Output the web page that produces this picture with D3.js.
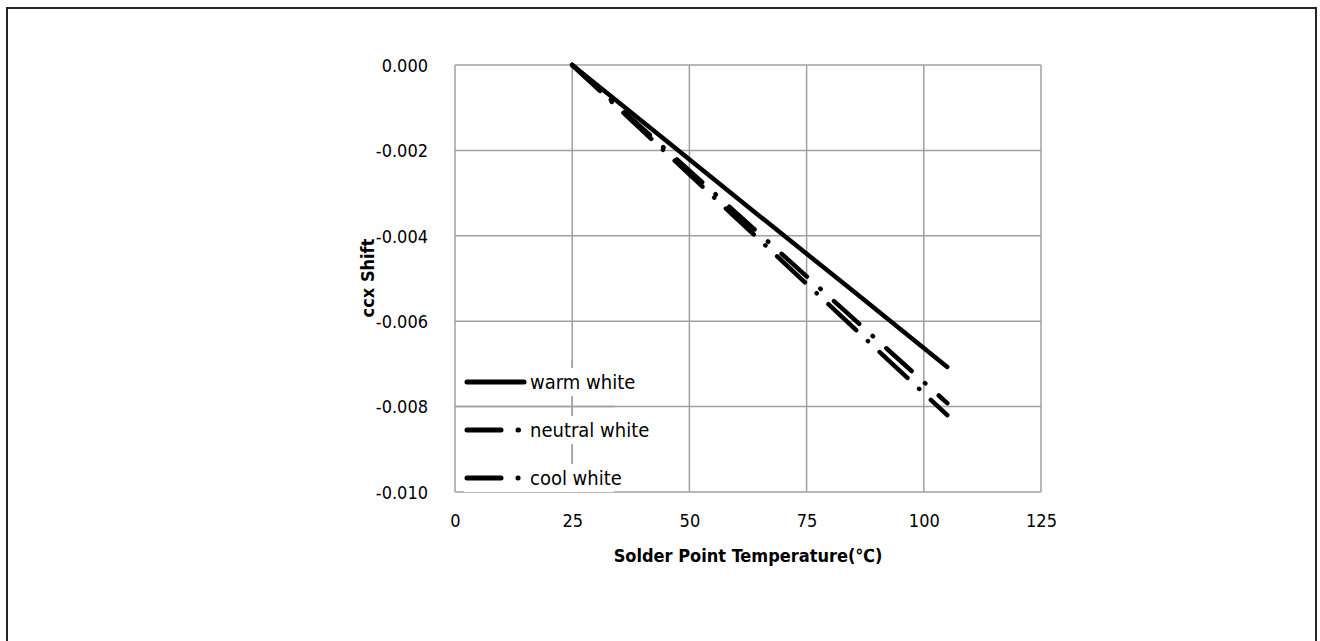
<!DOCTYPE html>
<html>
<head>
<meta charset="utf-8">
<script src="https://cdn.jsdelivr.net/npm/d3@7"></script>
<style>
  body { margin: 0; background: #fff; }
  text { font-family: "Liberation Sans Narrow", "DejaVu Sans Condensed", "Liberation Sans", Arial, sans-serif; font-stretch: condensed; fill: #000; }
</style>
</head>
<body>
<div id="chart"></div>
<script>
var svgWidth = 1320;
var svgHeight = 641;

var margin = { top: 65, right: 279, bottom: 149, left: 455 };
var width = 1041 - margin.left;
var height = 492 - margin.top;

// data
var temps = [25, 45, 65, 85, 105];
var warmWhite = [0, -0.00177, -0.00354, -0.00530, -0.00707];
var neutralWhite = [0, -0.00198, -0.00396, -0.00594, -0.00792];
var coolWhite = [0, -0.00205, -0.00410, -0.00615, -0.00820];
var seriesNames = ["warm white", "neutral white", "cool white"];
var xTicks = [0, 25, 50, 75, 100, 125];
var yTicks = [0, -0.002, -0.004, -0.006, -0.008, -0.010];

var svg = d3.select("#chart")
  .append("svg")
  .attr("width", svgWidth)
  .attr("height", svgHeight);

// outer frame
svg.append("rect")
  .attr("x", 7)
  .attr("y", 8)
  .attr("width", 1309)
  .attr("height", 700)
  .attr("fill", "none")
  .attr("stroke", "#262626")
  .attr("stroke-width", 2);

var chartGroup = svg.append("g")
  .attr("transform", `translate(${margin.left}, ${margin.top})`);

var xLinearScale = d3.scaleLinear().domain([0, 125]).range([0, width]);
var yLinearScale = d3.scaleLinear().domain([-0.010, 0]).range([height, 0]);

// gridlines
chartGroup.selectAll(".vgrid")
  .data(xTicks)
  .enter()
  .append("line")
  .attr("x1", d => xLinearScale(d))
  .attr("x2", d => xLinearScale(d))
  .attr("y1", 0)
  .attr("y2", height)
  .attr("stroke", "#a0a0a0")
  .attr("stroke-width", 1.5);

chartGroup.selectAll(".hgrid")
  .data(yTicks)
  .enter()
  .append("line")
  .attr("x1", 0)
  .attr("x2", width)
  .attr("y1", d => yLinearScale(d))
  .attr("y2", d => yLinearScale(d))
  .attr("stroke", "#a0a0a0")
  .attr("stroke-width", 1.5);

// axes (labels only, domain and ticks hidden)
var bottomAxis = d3.axisBottom(xLinearScale).tickValues(xTicks).tickSize(0).tickPadding(22);
var leftAxis = d3.axisLeft(yLinearScale).tickValues(yTicks).tickSize(0).tickPadding(27)
  .tickFormat(d => d3.format(".3f")(d).replace("−", "-"));

var xAxis = chartGroup.append("g")
  .attr("transform", `translate(0, ${height})`)
  .call(bottomAxis);
var yAxis = chartGroup.append("g")
  .call(leftAxis);

[xAxis, yAxis].forEach(function(ax) {
  ax.attr("font-family", null);
  ax.select(".domain").remove();
  ax.selectAll("text")
    .style("font-size", "18px")
    .attr("fill", "#000");
});
yAxis.selectAll("text").attr("dy", "0.35em");

// axis titles
svg.append("text")
  .attr("x", 748)
  .attr("y", 562)
  .attr("text-anchor", "middle")
  .style("font-size", "18px")
  .style("font-weight", "bold")
  .text("Solder Point Temperature(℃)");

svg.append("text")
  .attr("transform", "translate(374, 278) rotate(-90)")
  .attr("text-anchor", "middle")
  .style("font-size", "18px")
  .style("font-weight", "bold")
  .text("ccx Shift");

// series lines
var styles = [
  { values: warmWhite, dash: null },
  { values: neutralWhite, dash: "34,18,0.5,18" },
  { values: coolWhite, dash: "38,16,0.1,16" }
];

var line = d3.line()
  .x(d => xLinearScale(d[0]))
  .y(d => yLinearScale(d[1]));

styles.forEach(function(s) {
  chartGroup.append("path")
    .datum(temps.map((t, i) => [t, s.values[i]]))
    .attr("d", line)
    .attr("fill", "none")
    .attr("stroke", "#000")
    .attr("stroke-width", 4.5)
    .attr("stroke-linecap", "round")
    .attr("stroke-dasharray", s.dash);
});

// legend
var legend = svg.append("g");
var legendY = [382, 430, 478];
var legendDash = [null, "34,17,0.5,100", "34,17,0.1,100"];

seriesNames.forEach(function(name, i) {
  legend.append("rect")
    .attr("x", 464)
    .attr("y", legendY[i] - 14)
    .attr("width", 150)
    .attr("height", 28)
    .attr("fill", "#fff");
  legend.append("line")
    .attr("x1", 467)
    .attr("x2", 524)
    .attr("y1", legendY[i])
    .attr("y2", legendY[i])
    .attr("stroke", "#000")
    .attr("stroke-width", 5)
    .attr("stroke-linecap", "round")
    .attr("stroke-dasharray", legendDash[i]);
  legend.append("text")
    .attr("x", 530)
    .attr("y", legendY[i] + 7)
    .style("font-size", "20px")
    .text(name);
});

// redraw gridlines that pass over the legend area
chartGroup.append("line")
  .attr("x1", xLinearScale(25)).attr("x2", xLinearScale(25))
  .attr("y1", 360 - margin.top).attr("y2", height)
  .attr("stroke", "#a0a0a0").attr("stroke-width", 1.5);
chartGroup.append("line")
  .attr("x1", 0).attr("x2", 160)
  .attr("y1", yLinearScale(-0.008)).attr("y2", yLinearScale(-0.008))
  .attr("stroke", "#a0a0a0").attr("stroke-width", 1.5);
</script>
</body>
</html>
